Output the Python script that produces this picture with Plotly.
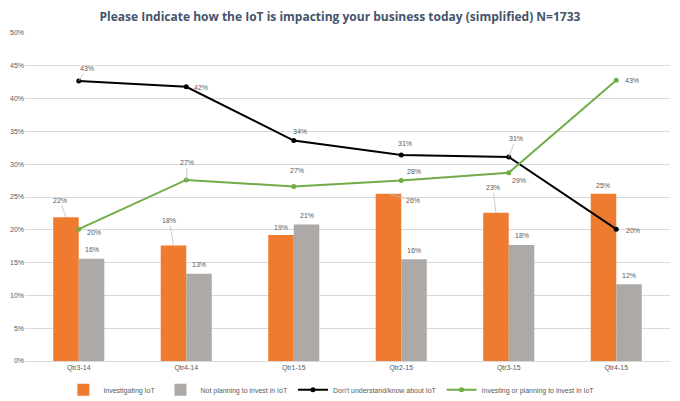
import plotly.graph_objects as go

categories = ["Qtr3-14", "Qtr4-14", "Qtr1-15", "Qtr2-15", "Qtr3-15", "Qtr4-15"]
investigating = [21.9, 17.6, 19.2, 25.5, 22.6, 25.5]
not_planning = [15.6, 13.3, 20.8, 15.5, 17.7, 11.7]
dont_understand = [42.7, 41.8, 33.6, 31.4, 31.1, 20.1]
investing = [20.1, 27.6, 26.6, 27.5, 28.7, 42.8]

inv_labels = ["22%", "18%", "19%", "26%", "23%", "25%"]
np_labels = ["16%", "13%", "21%", "16%", "18%", "12%"]
du_labels = ["43%", "42%", "34%", "31%", "31%", "20%"]
ip_labels = ["20%", "27%", "27%", "28%", "29%", "43%"]

ytick_vals = [0, 5, 10, 15, 20, 25, 30, 35, 40, 45, 50]
ytick_text = [f"{v}%" for v in ytick_vals]

# label offsets (pixels) and leader-line flags
inv_off = [(-6, -17, True), (-4, -25, True), (0, -8, False), (25, 7, True), (-3, -25, True), (0, -8, False)]
np_off = [(0, -9, False)] * 6
du_off = [(8, -12, True), (15, 1, False), (6, -9, False), (4, -12, False), (7, -18, True), (17, 1, False)]
ip_off = [(15, 3, False), (1, -17, True), (3, -16, False), (13, -9, False), (10, 8, False), (16, 0, False)]

ORANGE = "#EF7B31"
GRAY = "#ADA9A7"
BLACK = "#000000"
GREEN = "#70AD47"
LABEL = "#595959"
FONT = "Liberation Sans"

fig = go.Figure()
fig.add_trace(go.Bar(x=categories, y=investigating, name="Investigating IoT",
                     marker=dict(color=ORANGE, line=dict(width=0))))
fig.add_trace(go.Bar(x=categories, y=not_planning, name="Not planning to invest in IoT",
                     marker=dict(color=GRAY, line=dict(width=0))))
fig.add_trace(go.Scatter(x=categories, y=dont_understand, name="Don't understand/know about IoT",
                         mode="lines+markers", line=dict(color=BLACK, width=2),
                         marker=dict(color=BLACK, size=5)))
fig.add_trace(go.Scatter(x=categories, y=investing, name="Investing or planning to invest in IoT",
                         mode="lines+markers", line=dict(color=GREEN, width=2),
                         marker=dict(color=GREEN, size=5)))

BAR_HALF = 12.8
annotations = []
def add_labels(values, labels, offs, xshift):
    for c, v, t, (dx, dy, lead) in zip(categories, values, labels, offs):
        annotations.append(dict(
            x=c, y=v, text=t, xref="x", yref="y", xshift=xshift,
            showarrow=True, ax=dx, ay=dy, arrowhead=0, arrowwidth=0.8,
            arrowcolor="#BFBFBF" if lead else "rgba(0,0,0,0)",
            standoff=0, startstandoff=0,
            font=dict(family=FONT, size=7, color=LABEL)))

add_labels(investigating, inv_labels, inv_off, -BAR_HALF)
add_labels(not_planning, np_labels, np_off, BAR_HALF)
add_labels(dont_understand, du_labels, du_off, 0)
add_labels(investing, ip_labels, ip_off, 0)

fig.update_layout(
    width=672, height=393,
    margin=dict(l=17, r=10, t=25, b=40, autoexpand=False),
    paper_bgcolor="white", plot_bgcolor="white",
    barmode="group", bargap=0.525, bargroupgap=0,
    title=dict(text="<b>Please Indicate how the IoT is impacting your business today (simplified) N=1733</b>",
               x=0.494, xanchor="center", y=0.977, yanchor="middle",
               font=dict(family="Open Sans", size=12, color="#44546A")),
    font=dict(family=FONT, size=7, color=LABEL),
    showlegend=True,
    legend=dict(orientation="h", x=0.475, xanchor="center", y=-0.088, yanchor="middle",
                font=dict(family=FONT, size=7, color=LABEL), itemwidth=30,
                bgcolor="rgba(0,0,0,0)"),
    annotations=annotations,
)
fig.update_yaxes(range=[0, 50], tickvals=ytick_vals, ticktext=ytick_text, automargin=False,
                 showgrid=True, gridcolor="#D9D9D9", gridwidth=1, zeroline=False,
                 showline=False, ticks="", tickfont=dict(family=FONT, size=7, color=LABEL))
fig.update_xaxes(showline=True, linecolor="#D9D9D9", linewidth=1, ticks="", automargin=False,
                 tickfont=dict(family=FONT, size=7, color=LABEL))

fig.write_html("out.html")
